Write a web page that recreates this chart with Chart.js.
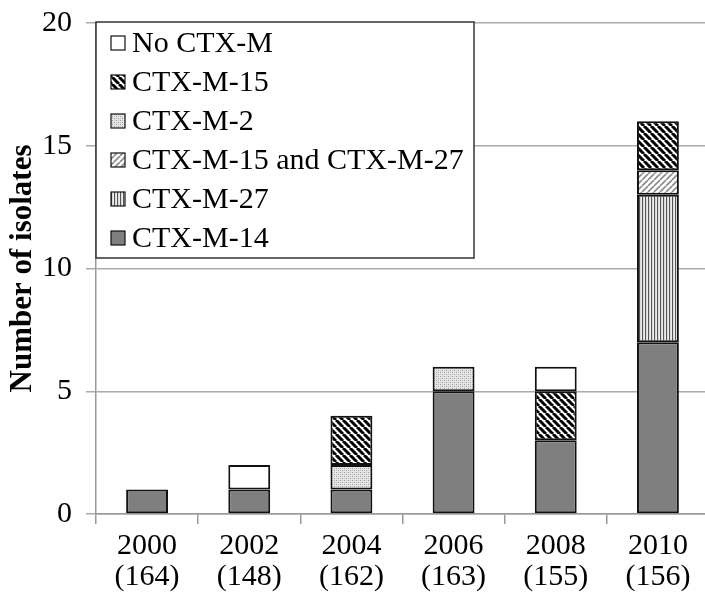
<!DOCTYPE html>
<html><head><meta charset="utf-8">
<script src="https://cdn.jsdelivr.net/npm/chart.js@4/dist/chart.umd.min.js"></script>
<style>html,body{margin:0;padding:0;overflow:hidden;background:#fff}#wrap{width:712px;height:593px;position:relative}</style>
</head><body><div id="wrap"><canvas id="c" width="712" height="593"></canvas></div>
<script>
const years = ['2000','2002','2004','2006','2008','2010'];
const totals = ['(164)','(148)','(162)','(163)','(155)','(156)'];
const ctxM14 = [1,1,1,5,3,7];
const ctxM27 = [null,null,null,null,null,6];
const ctxM15and27 = [null,null,null,null,null,1];
const ctxM2 = [null,null,1,1,null,null];
const ctxM15 = [null,null,2,null,2,2];
const noCtxM = [null,1,null,null,1,null];
const seriesNames = ['CTX-M-14','CTX-M-27','CTX-M-15 and CTX-M-27','CTX-M-2','CTX-M-15','No CTX-M'];
const yAxisTitle = 'Number of isolates';

const FONT = "'Liberation Serif','Times New Roman',serif";

function tile(w,h,draw){
  const c=document.createElement('canvas');c.width=w;c.height=h;
  const g=c.getContext('2d');g.fillStyle='#fff';g.fillRect(0,0,w,h);draw(g,w,h);
  return document.getElementById('c').getContext('2d').createPattern(c,'repeat');
}
const patSolid = '#7f7f7f';
const patVert = tile(3,3,(g)=>{g.fillStyle='#555';g.fillRect(0,0,1.4,3);g.fillStyle='#ededed';g.fillRect(1.4,0,1.6,3);});
const patFwd = tile(6,6,(g,w,h)=>{g.strokeStyle='#8a8a8a';g.lineWidth=1.6;
  for(let k=-1;k<=1;k++){g.beginPath();g.moveTo(k*w,h);g.lineTo(k*w+w,0);g.stroke();}});
const patDots = tile(4,4,(g)=>{g.fillStyle='#e6e6e6';g.fillRect(0,0,4,4);g.fillStyle='#9a9a9a';
  g.fillRect(0,0,1,1);g.fillRect(2,2,1,1);g.fillStyle='#c4c4c4';g.fillRect(2,0,1,1);g.fillRect(0,2,1,1);});
const patBack = tile(7,7,(g,w,h)=>{g.strokeStyle='#000';g.lineWidth=3;
  for(let k=-1;k<=1;k++){g.beginPath();g.moveTo(k*w,0);g.lineTo(k*w+w,h);g.stroke();}});
const patWhite = '#ffffff';
const fills = [patSolid,patVert,patFwd,patDots,patBack,patWhite];
const dataArr = [ctxM14,ctxM27,ctxM15and27,ctxM2,ctxM15,noCtxM];

const legendOrder = [5,4,3,2,1,0];
const legendPlugin = {
  id:'boxLegend',
  afterDraw(chart){
    const ctx=chart.ctx; const a=chart.chartArea;
    const x0=a.left, y0=22, w=378, h=236;
    ctx.save();
    ctx.fillStyle='#fff';ctx.fillRect(x0,y0,w,h);
    ctx.strokeStyle='#333';ctx.lineWidth=1.5;ctx.strokeRect(x0,y0,w,h);
    ctx.font='30px '+FONT;ctx.textBaseline='middle';
    legendOrder.forEach((di,i)=>{
      const cy=43+i*39;
      ctx.fillStyle=fills[di];ctx.fillRect(x0+15,cy-7,14,14);
      ctx.strokeStyle='#111';ctx.lineWidth=1.2;ctx.strokeRect(x0+15,cy-7,14,14);
      ctx.fillStyle='#000';ctx.fillText(seriesNames[di],x0+36,cy+1);
    });
    ctx.restore();
  }
};

new Chart(document.getElementById('c'),{
  type:'bar',
  data:{
    labels: years.map((y,i)=>[y,totals[i]]),
    datasets: dataArr.map((d,i)=>({label:seriesNames[i],data:d,backgroundColor:fills[i],
      borderColor:'#111',borderWidth:2,borderSkipped:false,barPercentage:0.41,categoryPercentage:1}))
  },
  options:{
    responsive:false,animation:false,devicePixelRatio:1,
    layout:{padding:{top:23,right:3,left:0,bottom:0}},
    plugins:{legend:{display:false},tooltip:{enabled:false}},
    scales:{
      x:{stacked:true,
        grid:{display:true,drawOnChartArea:false,offset:true,tickLength:10,color:'#999',lineWidth:1.5},
        border:{color:'#999',width:1.5},
        ticks:{color:'#000',font:{family:FONT,size:30,lineHeight:1.05},padding:6,maxRotation:0},
        afterFit(s){s.height=79;s.paddingLeft=0;s.paddingRight=0;}
      },
      y:{stacked:true,min:0,max:20,
        grid:{color:'#aaa',lineWidth:1.5,tickLength:10},
        border:{color:'#999',width:1.5},
        ticks:{stepSize:5,color:'#000',font:{family:FONT,size:30},padding:14},
        title:{display:true,text:yAxisTitle,color:'#000',font:{family:FONT,size:31,weight:'bold'},padding:{top:4,bottom:0}},
        afterFit(s){s.width=96;s.paddingTop=0;s.paddingBottom=0;}
      }
    }
  },
  plugins:[legendPlugin]
});
</script></body></html>
